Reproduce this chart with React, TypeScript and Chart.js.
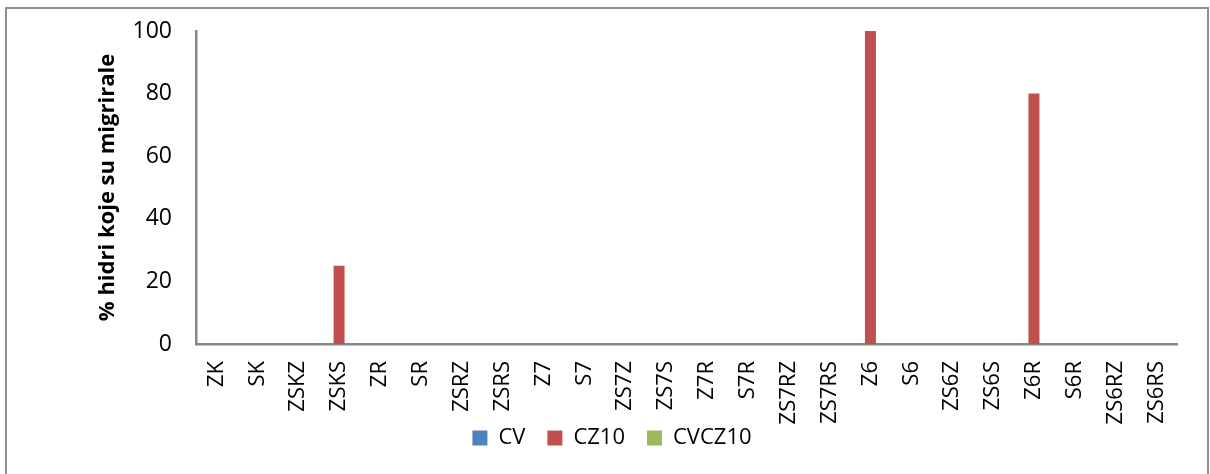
import React, { useEffect, useRef } from "react";
import { Chart, registerables } from "chart.js";

Chart.register(...registerables);

const categories = [
  "ZK", "SK", "ZSKZ", "ZSKS", "ZR", "SR", "ZSRZ", "ZSRS",
  "Z7", "S7", "ZS7Z", "ZS7S", "Z7R", "S7R", "ZS7RZ", "ZS7RS",
  "Z6", "S6", "ZS6Z", "ZS6S", "Z6R", "S6R", "ZS6RZ", "ZS6RS",
];
const cvValues = [0, 0, 0, 0, 0, 0, 0, 0, 0, 0, 0, 0, 0, 0, 0, 0, 0, 0, 0, 0, 0, 0, 0, 0];
const cz10Values = [0, 0, 0, 25, 0, 0, 0, 0, 0, 0, 0, 0, 0, 0, 0, 0, 100, 0, 0, 0, 80, 0, 0, 0];
const cvcz10Values = [0, 0, 0, 0, 0, 0, 0, 0, 0, 0, 0, 0, 0, 0, 0, 0, 0, 0, 0, 0, 0, 0, 0, 0];
const seriesNames = ["CV", "CZ10", "CVCZ10"];
const yTicks = [0, 20, 40, 60, 80, 100];
const yTitle = "% hidri koje su migrirale";

const FONT = "'Open Sans', 'DejaVu Sans', sans-serif";
const AXIS_COLOR = "#868686";

export default function App() {
  const canvasRef = useRef<HTMLCanvasElement | null>(null);

  useEffect(() => {
    const canvas = canvasRef.current;
    if (!canvas) return;
    const chart = new Chart(canvas, {
      type: "bar",
      data: {
        labels: categories,
        datasets: [
          { label: seriesNames[0], data: cvValues, backgroundColor: "#4F81BD", borderWidth: 0 },
          { label: seriesNames[1], data: cz10Values, backgroundColor: "#C0504D", borderWidth: 0 },
          { label: seriesNames[2], data: cvcz10Values, backgroundColor: "#9BBB59", borderWidth: 0 },
        ],
      },
      options: {
        responsive: false,
        animation: false,
        devicePixelRatio: 1,
        layout: { padding: { left: 47, top: 31, right: 33, bottom: 15 } },
        datasets: {
          bar: { categoryPercentage: 0.807, barPercentage: 1 },
        },
        plugins: {
          tooltip: { enabled: false },
          legend: {
            position: "bottom",
            labels: {
              boxWidth: 15,
              boxHeight: 15,
              padding: 22,
              color: "#000",
              font: { family: FONT, size: 22 },
            },
          },
        },
        scales: {
          x: {
            grid: { display: false, drawTicks: false },
            border: { display: true, color: AXIS_COLOR, width: 2.5 },
            ticks: {
              autoSkip: false,
              minRotation: 90,
              maxRotation: 90,
              padding: 17,
              color: "#000",
              font: { family: FONT, size: 22 },
            },
            afterFit: (scale: any) => {
              scale.height = 61;
              scale.paddingLeft = 0;
              scale.paddingRight = 0;
              scale._computeLabelArea = () => undefined;
            },
          },
          y: {
            min: 0,
            max: 100,
            grid: { display: false, drawTicks: false },
            border: { display: true, color: AXIS_COLOR, width: 2.5 },
            afterBuildTicks: (scale: any) => {
              scale.ticks = yTicks.map((v) => ({ value: v }));
            },
            ticks: {
              padding: 24,
              color: "#000",
              font: { family: FONT, size: 23 },
            },
            title: {
              display: true,
              text: yTitle,
              color: "#000",
              font: { family: FONT, size: 22, weight: "bold" },
              padding: { top: 48, bottom: 0 },
            },
            afterFit: (scale: any) => {
              scale.width = 149;
              scale.paddingTop = 0;
              scale.paddingBottom = 0;
            },
          },
        },
      },
    });
    return () => chart.destroy();
  }, []);

  return (
    <div
      style={{
        position: "fixed",
        left: 0,
        top: 0,
        width: 1210,
        height: 474,
        overflow: "hidden",
        background: "#fff",
      }}
    >
      <div
        style={{
          position: "absolute",
          left: 5,
          top: 7,
          width: 1200,
          height: 480,
          border: "2px solid #8f8f8f",
          boxSizing: "content-box",
        }}
      />
      <canvas
        ref={canvasRef}
        width={1210}
        height={474}
        style={{ position: "absolute", left: 0, top: 0, width: 1210, height: 474 }}
      />
    </div>
  );
}
